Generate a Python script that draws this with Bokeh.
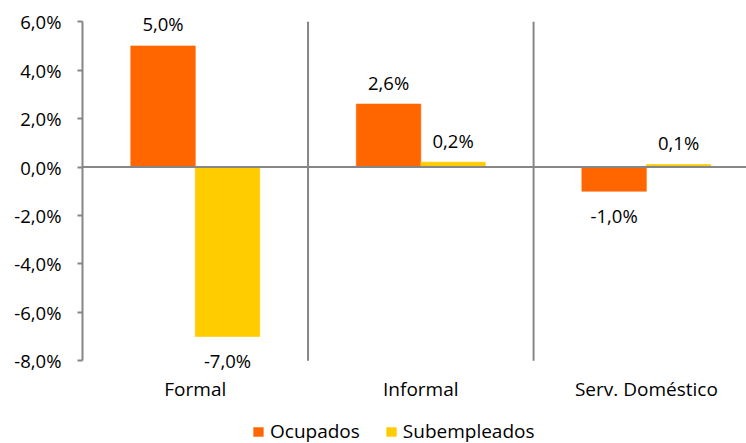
from bokeh.plotting import figure
from bokeh.models import (Range1d, FixedTicker, Span, ColumnDataSource, LabelSet,
                          Legend, LegendItem, CustomJSTickFormatter)
from bokeh.core.properties import value
from bokeh.embed import file_html
from bokeh.resources import INLINE

# Variation by employment segment
categories = ["Formal", "Informal", "Serv. Doméstico"]
ocupados = [5.0, 2.6, -1.0]
subempleados = [-7.0, 0.2, 0.1]
series_names = ["Ocupados", "Subempleados"]
y_ticks = [-8, -6, -4, -2, 0, 2, 4, 6]

ORANGE = "#FF6600"
YELLOW = "#FFCC00"
GRAY = "#868686"
FONT = "Open Sans"
FS = "18.5px"
FS_CAT = "19px"

bar_w = 0.286
centers = [i + 0.5 for i in range(len(categories))]

def fmt(v):
    return f"{v:.1f}".replace(".", ",") + "%"

# the frame covers the whole height: category names and legend sit below the value axis
p = figure(frame_width=664, frame_height=443, output_backend="svg",
           toolbar_location=None, x_range=Range1d(0, 2.944),
           y_range=Range1d(-11.42, 6.877), x_axis_location=None,
           min_border_left=82, min_border_right=0, min_border_top=0,
           min_border_bottom=0)
p.outline_line_color = None
p.background_fill_color = "white"

src_o = ColumnDataSource(dict(x=[c - bar_w / 2 for c in centers], top=ocupados))
src_s = ColumnDataSource(dict(x=[c + bar_w / 2 for c in centers], top=subempleados))

r_o = p.vbar(x="x", top="top", bottom=0, width=bar_w, source=src_o,
             fill_color=ORANGE, line_color=ORANGE, line_alpha=0.6)
r_s = p.vbar(x="x", top="top", bottom=0, width=bar_w, source=src_s,
             fill_color=YELLOW, line_color=YELLOW, line_alpha=0.6)

# separators between categories, spanning the value axis
p.segment(x0=[1, 2], x1=[1, 2], y0=[y_ticks[0]] * 2, y1=[y_ticks[-1]] * 2,
          line_color=GRAY, line_width=2)

# zero line acting as the category axis
p.add_layout(Span(location=0, dimension="width", line_color=GRAY, line_width=2))

# value labels: above positive bars, below negative ones
for src, vals in ((src_o, ocupados), (src_s, subempleados)):
    xs = src.data["x"]
    pos = ColumnDataSource(dict(x=[x for x, v in zip(xs, vals) if v >= 0],
                                y=[v for v in vals if v >= 0],
                                lab=[fmt(v) for v in vals if v >= 0]))
    neg = ColumnDataSource(dict(x=[x for x, v in zip(xs, vals) if v < 0],
                                y=[v for v in vals if v < 0],
                                lab=[fmt(v) for v in vals if v < 0]))
    for s, off in ((pos, 22), (neg, -24)):
        p.add_layout(LabelSet(x="x", y="y", text="lab", source=s, y_offset=off,
                              text_align="center", text_baseline="middle",
                              text_font=value(FONT), text_font_size=value(FS),
                              text_color="#000000"))

# category names under the bottom of the value axis
cat_src = ColumnDataSource(dict(x=centers, y=[y_ticks[0]] * len(centers), lab=categories))
p.add_layout(LabelSet(x="x", y="y", text="lab", source=cat_src, y_offset=-28,
                      text_align="center", text_baseline="middle",
                      text_font=value(FONT), text_font_size=value(FS_CAT),
                      text_color="#000000"))

# y axis
p.yaxis.ticker = FixedTicker(ticks=y_ticks)
p.yaxis.bounds = (y_ticks[0], y_ticks[-1])
p.yaxis.formatter = CustomJSTickFormatter(code="return tick.toFixed(1).replace('.', ',') + '%';")
p.yaxis.axis_line_color = GRAY
p.yaxis.axis_line_width = 2
p.yaxis.major_tick_line_color = GRAY
p.yaxis.major_tick_line_width = 2
p.yaxis.major_tick_in = 0
p.yaxis.major_tick_out = 5
p.yaxis.minor_tick_line_color = None
p.yaxis.major_label_text_font = FONT
p.yaxis.major_label_text_font_size = FS
p.yaxis.major_label_text_color = "#000000"
p.yaxis.major_label_standoff = 16

p.xgrid.grid_line_color = None
p.ygrid.grid_line_color = None

legend = Legend(items=[LegendItem(label=series_names[0], renderers=[r_o]),
                       LegendItem(label=series_names[1], renderers=[r_s])],
                orientation="horizontal", location=(170, -1),
                glyph_width=12, glyph_height=11, label_standoff=6, spacing=25,
                padding=0, margin=0, border_line_color=None,
                background_fill_alpha=0,
                label_text_font=FONT, label_text_font_size=FS_CAT,
                label_text_color="#000000", label_height=18)
p.add_layout(legend, "center")

open("out.html", "w").write(file_html(p, INLINE))
